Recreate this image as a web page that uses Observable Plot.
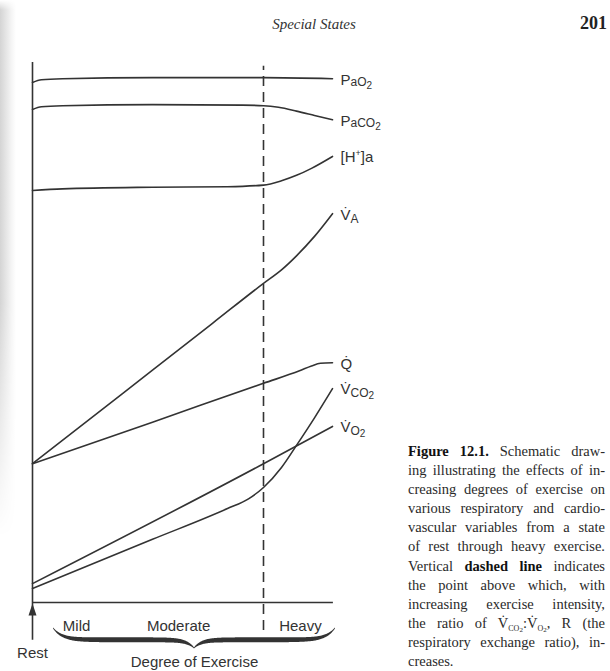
<!DOCTYPE html>
<html>
<head>
<meta charset="utf-8">
<script src="https://cdn.jsdelivr.net/npm/d3@7"></script>
<script src="https://cdn.jsdelivr.net/npm/@observablehq/plot@0.6"></script>
<style>
  html, body { margin: 0; padding: 0; background: #fff; }
  #page { position: relative; width: 610px; height: 671px; overflow: hidden; background: #fff; }
  #edge { position: absolute; left: 0; top: 0; width: 16px; height: 671px;
          background: linear-gradient(to right, #d4d4d4, #f4f4f4 70%, #fff);
          -webkit-mask-image: linear-gradient(to bottom, transparent 0px, #000 10px, #000 45%, transparent 80%);
          mask-image: linear-gradient(to bottom, transparent 0px, #000 10px, #000 45%, transparent 80%); }
  #chart { position: absolute; left: 0; top: 0; }
  #runhead { position: absolute; left: 214px; width: 200px; top: 16px; text-align: center;
             font: italic 15px "Liberation Serif", "Times New Roman", serif; color: #333; }
  #folio { position: absolute; right: 3px; top: 13px;
           font: bold 18px "Liberation Serif", "Times New Roman", serif; color: #222; }
  #caption { position: absolute; left: 408px; top: 442px; width: 197px;
             font: 14.5px/19.1px "Liberation Serif", "Times New Roman", serif; color: #2a2a2a; }
  #caption .j { text-align: justify; text-align-last: justify; white-space: nowrap; }
  #caption b { font-weight: bold; color: #111; }
  #caption .s { font-size: 8px; position: relative; top: 3px; line-height: 0; }
  #caption .s sub { font-size: 7px; vertical-align: baseline; position: relative; top: 1px; }
</style>
</head>
<body>
<div id="page">
  <div id="edge"></div>
  <div id="chart"></div>
  <div id="runhead">Special States</div>
  <div id="folio">201</div>
  <div id="caption">
    <div class="j"><b>Figure 12.1.</b> Schematic draw-</div>
    <div class="j">ing illustrating the effects of in-</div>
    <div class="j">creasing degrees of exercise on</div>
    <div class="j">various respiratory and cardio-</div>
    <div class="j">vascular variables from a state</div>
    <div class="j">of rest through heavy exercise.</div>
    <div class="j">Vertical <b>dashed line</b> indicates</div>
    <div class="j">the point above which, with</div>
    <div class="j">increasing exercise intensity,</div>
    <div class="j">the ratio of V&#775;<span class="s">CO<sub>2</sub></span>:V&#775;<span class="s">O<sub>2</sub></span>, R (the</div>
    <div class="j">respiratory exchange ratio), in-</div>
    <div>creases.</div>
  </div>
</div>
<script>
// ---- data (schematic, arbitrary units; x = exercise intensity 0..100) ----
const paO2X  = [0, 3, 10, 40, 77, 100];
const paO2Y  = [96.3, 96.8, 97.0, 97.2, 97.2, 97.0];

const paCO2X = [0, 3, 10, 40, 70, 77, 82, 88, 94, 100];
const paCO2Y = [91.3, 91.8, 92.0, 92.2, 92.1, 92.0, 91.7, 91.0, 90.2, 89.4];

const hX     = [0, 10, 40, 65, 77, 83, 88, 93, 100];
const hY     = [76.3, 76.6, 76.9, 77.0, 77.3, 78.1, 79.1, 80.4, 82.6];

const vaX    = [0, 30, 60, 77, 83, 88, 94, 100];
const vaY    = [25.7, 38.7, 51.7, 59.1, 61.6, 64.2, 67.8, 72.0];

const qX     = [0, 40, 77, 89, 93, 96, 100];
const qY     = [25.7, 33.4, 40.6, 42.9, 43.8, 44.3, 44.4];

const vco2X  = [0, 40, 65, 72, 77, 83, 88, 94, 100];
const vco2Y  = [2.6, 11.7, 17.4, 19.2, 21.3, 25.0, 29.1, 34.2, 39.6];

const vo2X   = [0, 77, 100];
const vo2Y   = [3.5, 25.7, 32.6];

const seriesNames = ["PaO2", "PaCO2", "[H+]a", "VA", "Q", "VCO2", "VO2"];
const seriesX = [paO2X, paCO2X, hX, vaX, qX, vco2X, vo2X];
const seriesY = [paO2Y, paCO2Y, hY, vaY, qY, vco2Y, vo2Y];

const thresholdX = [77];            // R begins to rise (dashed line)
const levels  = ["Mild", "Moderate", "Heavy"];
const levelX  = [14.7, 48.7, 89.3];
const restLabel = "Rest";
const axisTitle = "Degree of Exercise";

// ---- build tables ----
const ink = "#333";
const lineData = seriesNames.flatMap((name, s) =>
  seriesX[s].map((x, i) => ({name, x, y: seriesY[s][i]})));
const endLabels = seriesNames.map((name, s) => ({name, x: seriesX[s].at(-1), y: seriesY[s].at(-1)}));
const levelData = levels.map((name, i) => ({name, x: levelX[i]}));

// curly brace shape spanning the exercise levels
function brace(x0, x1, yBase, rise, dip) {
  const xm = (x0 + x1) / 2;
  return d3.range(x0, x1 + 1e-6, 0.25).map(x => {
    const s = x <= xm ? x - x0 : x1 - x;
    const m = Math.abs(x - xm);
    const yc = yBase + rise * Math.exp(-s / 3) - dip * Math.exp(-m / 2.5);
    const th = 0.36 * (1 - Math.exp(-s / 5)) * (1 - Math.exp(-m / 3)) + 0.1;
    return {x, y1: yc - th, y2: yc + th};
  });
}
const braceData = brace(7, 101, -7.0, 2.2, 1.5);

const arrowHead = {
  draw(context) {
    context.moveTo(0, -6);
    context.lineTo(4, 6);
    context.lineTo(-4, 6);
    context.closePath();
  }
};

const chart = Plot.plot({
  width: 610,
  height: 671,
  marginLeft: 32,
  marginRight: 278,
  marginTop: 62,
  marginBottom: 69,
  x: {domain: [0, 100], axis: null},
  y: {domain: [0, 100], axis: null},
  style: {background: "transparent", overflow: "visible", fontFamily: "'Liberation Sans', Arial, sans-serif"},
  marks: [
    // axes
    Plot.ruleX([0], {y1: -7, y2: 100, stroke: ink, strokeWidth: 1.6}),
    Plot.ruleY([0], {x1: 0, x2: 100.3, stroke: ink, strokeWidth: 1.6}),
    Plot.dot([0], {x: 0, y: -1.3, symbol: arrowHead, fill: ink, stroke: "none"}),
    // threshold
    Plot.ruleX(thresholdX, {y1: -5.2, y2: 99.3, stroke: ink, strokeWidth: 1.6, strokeDasharray: "10,6"}),
    // curves
    Plot.line(lineData, {x: "x", y: "y", z: "name", curve: "monotone-x", stroke: ink, strokeWidth: 1.6}),
    // series labels
    Plot.text(endLabels, {x: "x", y: "y", text: "name", dx: 8, dy: 1, textAnchor: "start",
      fontSize: 15, fill: ink}),
    // exercise levels
    Plot.text(levelData, {x: "x", y: -4.3, text: "name", fontSize: 15, fill: ink}),
    Plot.text([restLabel], {x: 0, y: -9.3, text: d => d, fontSize: 15, fill: ink}),
    Plot.areaY(braceData, {x: "x", y1: "y1", y2: "y2", fill: ink}),
    Plot.text([axisTitle], {x: 54, y: -11.1, text: d => d, fontSize: 15, fill: ink})
  ]
});

// rich-text series labels (subscripts, dots)
const markup = {
  "PaO2":  'P<tspan font-size="12" dy="1">aO</tspan><tspan font-size="10" dy="3">2</tspan>',
  "PaCO2": 'P<tspan font-size="12" dy="1">aCO</tspan><tspan font-size="10" dy="3">2</tspan>',
  "[H+]a": '[H<tspan font-size="9" dy="-6">+</tspan><tspan dy="6">]a</tspan>',
  "VA":    'V\u0307<tspan font-size="12" dy="3">A</tspan>',
  "Q":     'Q\u0307',
  "VCO2":  'V\u0307<tspan font-size="12" dy="3">CO</tspan><tspan font-size="10" dy="2">2</tspan>',
  "VO2":   'V\u0307<tspan font-size="12" dy="3">O</tspan><tspan font-size="10" dy="2">2</tspan>'
};
d3.select(chart).selectAll("text").each(function() {
  const k = this.textContent;
  if (Object.prototype.hasOwnProperty.call(markup, k)) this.innerHTML = markup[k];
});

document.getElementById("chart").appendChild(chart);
</script>
</body>
</html>
